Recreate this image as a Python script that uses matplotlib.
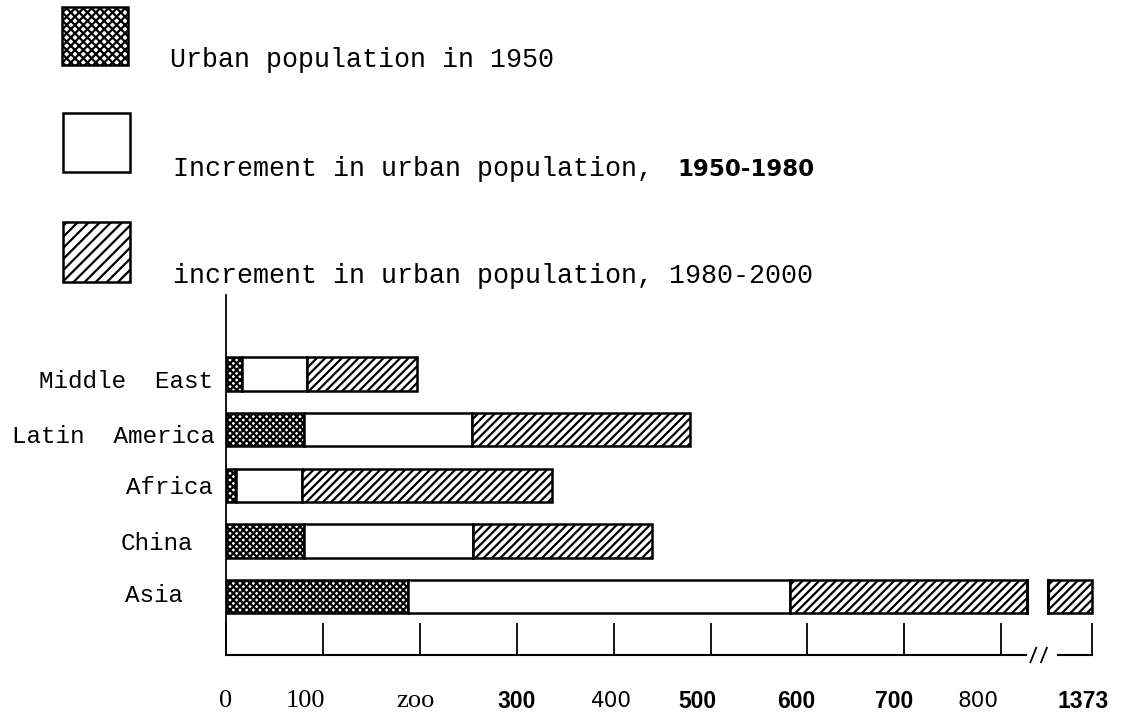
import matplotlib
matplotlib.use('Agg')
import matplotlib.pyplot as plt
import matplotlib.transforms as mtransforms
import numpy as np
from matplotlib.patches import Rectangle

# data (millions)
categories = ['Middle East', 'Latin America', 'Africa', 'China', 'Asia']
urban_1950 = [16, 80, 10, 80, 188]
incr_1950_1980 = [68, 174, 68, 175, 394]
incr_1980_2000 = [113, 225, 258, 185, 791]

legend_labels = ['Urban population in 1950',
                 'Increment in urban population,',
                 'increment in urban population, 1980-2000']
legend_years = '1950-1980'

tick_vals = [0, 100, 200, 300, 400, 500, 600, 700, 800, 1373]
tick_labels = ['0', '100', 'zoo', '300', '400', '500', '600', '700', '800', '1373']

# axis break: values above 800 are squeezed into the last interval
BREAK_AT = 800
BREAK_TOP = 1373
BREAK_END = 894


def brk(v):
    v = np.asarray(v, dtype=float)
    return np.where(v <= BREAK_AT, v,
                    BREAK_AT + (v - BREAK_AT) * (BREAK_END - BREAK_AT) / (BREAK_TOP - BREAK_AT))


plt.rcParams['hatch.linewidth'] = 1.6
MONO = 'Liberation Mono'

fig = plt.figure(figsize=(11.44, 7.17), dpi=100)
ax = fig.add_axes([226 / 1144, 62 / 717, 911 / 1144, 360 / 717])
ax.set_xlim(0, 940)
ax.set_ylim(-1.052, 5.42)

ypos = np.arange(len(categories))[::-1]
segs = [urban_1950, incr_1950_1980, incr_1980_2000]
hatches = ['xxxxx', '', '////']
start = np.zeros(len(categories))
for vals, h in zip(segs, hatches):
    end = start + np.array(vals)
    left = brk(start)
    ax.barh(ypos, brk(end) - left, left=left, height=0.6, facecolor='white',
            edgecolor='black', hatch=h, linewidth=1.8, zorder=2)
    start = end

# break gap through the long Asia bar
for i, tot in enumerate(start):
    if tot > BREAK_AT:
        y = ypos[i]
        ax.add_patch(Rectangle((826, y - 0.4), 22, 0.8, facecolor='white',
                               edgecolor='none', zorder=3))
        ax.plot([826, 826], [y - 0.3, y + 0.3], color='black', lw=2.2, zorder=4)
        ax.plot([848, 848], [y - 0.3, y + 0.3], color='black', lw=2.2, zorder=4)

# axis lines
ybot = ax.get_ylim()[0]
for s in ['top', 'right', 'bottom']:
    ax.spines[s].set_visible(False)
ax.spines['left'].set_linewidth(1.3)
ax.plot([0, 825], [ybot, ybot], color='black', lw=1.5, clip_on=False)
ax.plot([858, float(brk(BREAK_TOP))], [ybot, ybot], color='black', lw=1.5, clip_on=False)
for x0 in (830, 841):
    ax.plot([x0, x0 + 6], [ybot - 0.13, ybot + 0.13], color='black', lw=1.3, clip_on=False)

ax.set_yticks([])
ax.set_xticks(brk(tick_vals))
ax.tick_params(axis='x', direction='in', length=23, width=1.3, labelbottom=False)

# tick labels, mixed fonts as in the scan
tick_fonts = [('Liberation Serif', 'normal', 19)] * 3 + [
    ('Liberation Sans', 'bold', 16.5), ('DejaVu Sans', 'normal', 15.5),
    ('Liberation Sans', 'bold', 16.5), ('Liberation Sans', 'bold', 16.5),
    ('Liberation Sans', 'bold', 16.5), ('DejaVu Sans', 'normal', 15.5),
    ('Liberation Sans', 'bold', 16.5)]
tick_dx = [0, -17, -4, 0, -2, -13, -11, -10, -23, -9]
for v, lab, (fam, wt, sz), dx in zip(tick_vals, tick_labels, tick_fonts, tick_dx):
    tr = mtransforms.offset_copy(ax.get_xaxis_transform(), fig=fig, x=dx, y=-46, units='dots')
    ax.text(float(brk(v)), 0, lab, transform=tr, ha='center', va='center',
            family=fam, fontweight=wt, fontsize=sz)

# category labels
label_end = [213, 215, 213, 193, 183]
label_dy = [-14, -13, -8.5, -9.5, -5.5]
for y, name, xe, dy in zip(ypos, categories, label_end, label_dy):
    tr = mtransforms.offset_copy(ax.get_yaxis_transform(), fig=fig, x=xe - 226, y=dy, units='dots')
    ax.text(0, y, name.replace(' ', '  '), transform=tr, ha='right', va='baseline',
            family=MONO, fontsize=17.5)

# legend drawn in pixel coordinates
lax = fig.add_axes([0, 0, 1, 1])
lax.set_xlim(0, 1144)
lax.set_ylim(717, 0)
lax.axis('off')
boxes = [(62, 7, 66, 58), (63, 113, 67, 59), (63, 222, 67, 60)]
box_hatches = ['xxxx', '', '///']
for (bx, by, bw, bh), h in zip(boxes, box_hatches):
    lax.add_patch(Rectangle((bx, by), bw, bh, facecolor='white', edgecolor='black',
                            hatch=h, linewidth=1.8))
lax.text(170, 67, legend_labels[0], family=MONO, fontsize=19.2, va='baseline')
lax.text(173, 176, legend_labels[1], family=MONO, fontsize=19.2, va='baseline')
lax.text(677, 176, legend_years, family='DejaVu Sans', fontweight='bold',
         fontsize=16.5, va='baseline')
lax.text(173, 283, legend_labels[2], family=MONO, fontsize=19.2, va='baseline')

fig.savefig('out.png', dpi=100)
